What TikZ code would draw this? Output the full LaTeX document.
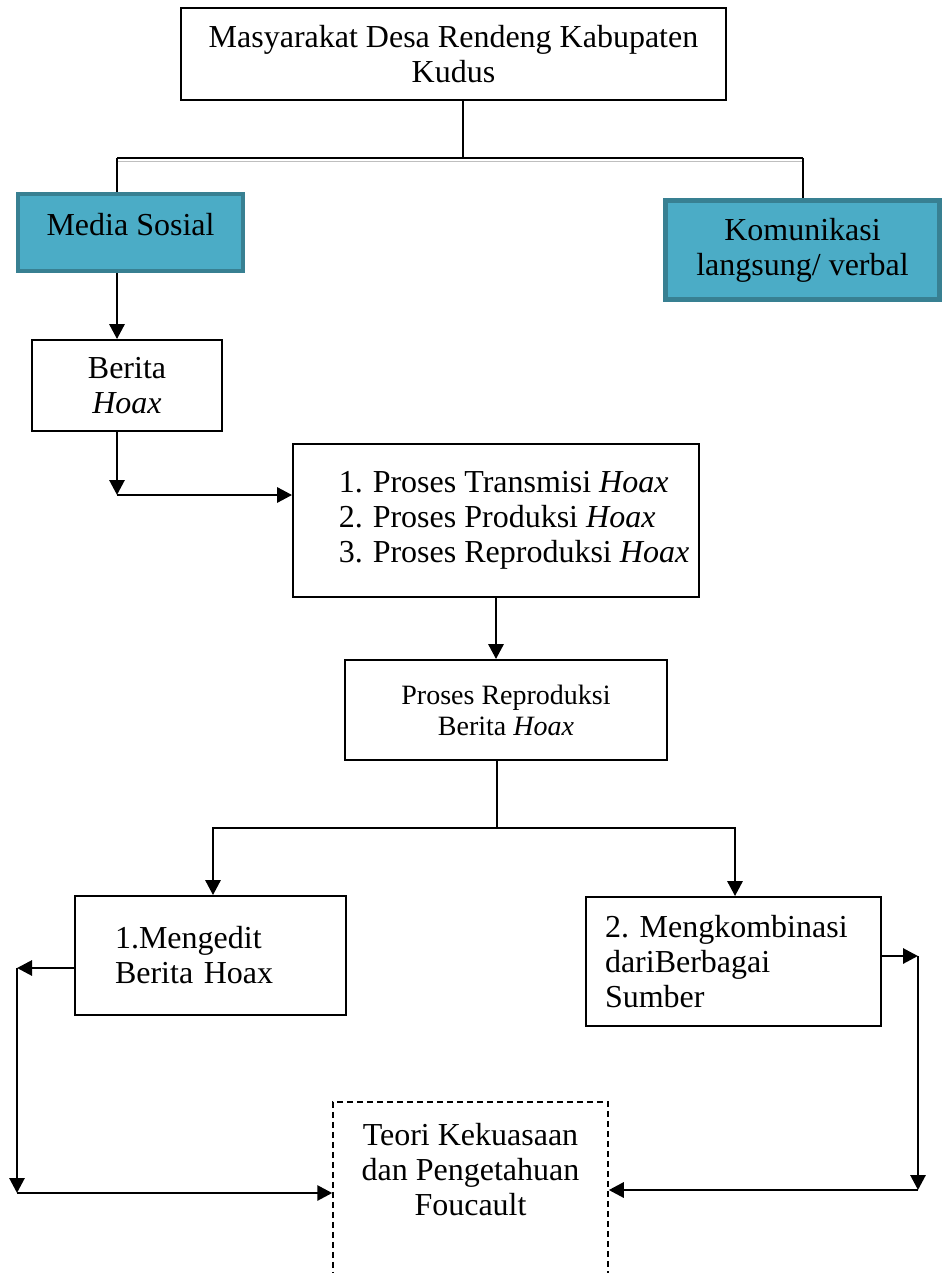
\documentclass[tikz,border=0pt]{standalone}
\usepackage{fontspec}
\setmainfont{Liberation Serif}
\usetikzlibrary{arrows.meta}
\definecolor{tealfill}{RGB}{75,172,198}
\definecolor{tealedge}{RGB}{56,128,146}

\begin{document}
\begin{tikzpicture}[x=1pt, y=-1pt,
    box/.style={draw, line width=1.8pt, inner sep=0pt, align=center, font=\fontsize{32}{35}\selectfont},
    tealbox/.style={box, fill=tealfill, draw=tealedge, line width=4.5pt},
    dashbox/.style={draw, line width=1.5pt, dash pattern=on 6pt off 4pt, inner sep=0pt},
    arrow/.style={line width=2.9pt, -{Triangle[length=15pt, width=15pt]}},
    bus/.style={line width=1.2pt}]

    \useasboundingbox (0,0) rectangle (942,1273);

    \node[box, minimum width=545pt, minimum height=92pt] (masyarakat) at (453.5, 54) {Masyarakat Desa Rendeng Kabupaten\\Kudus};
    \node[tealbox, minimum width=225pt, minimum height=77pt, text depth=16pt] (media) at (130.5, 232.5) {Media Sosial};
    \node[tealbox, minimum width=274pt, minimum height=99pt] (komunikasi) at (802.5, 250) {Komunikasi\\langsung/ verbal};
    \node[box, minimum width=190pt, minimum height=91pt] (berita) at (127, 385.5) {Berita\\\textit{Hoax}};
    \node[box, minimum width=406pt, minimum height=153pt] (proses) at (496, 520.5) {\begin{tabular}{@{\hspace{36pt}}r@{\hspace{10pt}}l@{}}
        1. & Proses Transmisi \textit{Hoax}\\
        2. & Proses Produksi \textit{Hoax}\\
        3. & Proses Reproduksi \textit{Hoax}
    \end{tabular}};
    \node[box, minimum width=322pt, minimum height=100pt, font=\fontsize{28}{31}\selectfont] (reproduksi) at (506, 710) {Proses Reproduksi\\Berita \textit{Hoax}};
    \node[box, minimum height=119pt, text width=191pt, inner xsep=40pt, align=left] (mengedit) at (210.5, 955.5) {1.Mengedit\\Berita Hoax};
    \node[box, minimum height=129pt, text width=257pt, inner xsep=19pt, align=left] (mengkombinasi) at (733.5, 961.5) {2.\ Mengkombinasi\\dariBerbagai\\Sumber};
    \node[dashbox, minimum width=275pt, minimum height=180pt, anchor=north] (teori) at (470.5, 1101) {};
    \node[align=center, inner sep=0pt, font=\fontsize{32}{35}\selectfont] (teoriteks) at (470.5, 1170) {Teori Kekuasaan\\dan Pengetahuan\\Foucault};

    % cabang atas
    \coordinate (pusat) at (463, 158);
    \coordinate (kiri) at (117, 158);
    \coordinate (kanan) at (803, 158);
    \draw[bus] (pusat |- masyarakat.south) -- (pusat);
    \draw[bus] (kiri) -- (kanan);
    \draw[bus, gray!50] ([yshift=-3.5pt]kiri) -- ([yshift=-3.5pt]kanan);
    \draw[bus] (kiri) -- (kiri |- media.north);
    \draw[bus] (kanan) -- (kanan |- komunikasi.north);

    \draw[arrow] (kiri |- media.south) -- (kiri |- berita.north);
    \coordinate (belok) at (117, 495);
    \draw[arrow] (kiri |- berita.south) -- (belok);
    \draw[arrow] (belok) -- (belok -| proses.west);
    \draw[arrow] (proses.south) -- (proses.south |- reproduksi.north);

    % cabang bawah
    \coordinate (cabang) at (497, 828);
    \coordinate (cabangkiri) at (213, 828);
    \coordinate (cabangkanan) at (735, 828);
    \draw[bus] (cabang |- reproduksi.south) -- (cabang);
    \draw[line width=2.2pt, line cap=rect] (cabangkiri) -- (cabangkanan);
    \draw[arrow] (cabangkiri) -- (cabangkiri |- mengedit.north);
    \draw[arrow] (cabangkanan) -- (cabangkanan |- mengkombinasi.north);

    % putaran ke teori
    \coordinate (putarkiri) at (17, 968);
    \coordinate (sudutkiri) at (17, 1193);
    \draw[arrow] (mengedit.west |- putarkiri) -- (putarkiri);
    \draw[arrow] (putarkiri) -- (sudutkiri);
    \draw[arrow] (sudutkiri) -- (sudutkiri -| teori.west);

    \coordinate (putarkanan) at (918, 956);
    \coordinate (sudutkanan) at (918, 1190);
    \draw[arrow] (mengkombinasi.east |- putarkanan) -- (putarkanan);
    \draw[arrow] (putarkanan) -- (sudutkanan);
    \draw[arrow] (sudutkanan) -- (sudutkanan -| teori.east);

\end{tikzpicture}
\end{document}
